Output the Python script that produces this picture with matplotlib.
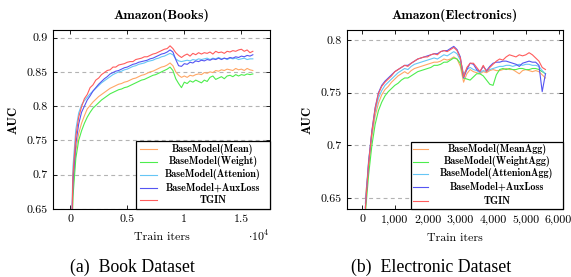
import matplotlib
matplotlib.use("Agg")
import matplotlib.pyplot as plt
from matplotlib.patches import Rectangle
from matplotlib.lines import Line2D

plt.rcParams['font.family'] = ['cmr10', 'DejaVu Serif']
plt.rcParams['mathtext.fontset'] = 'cm'
plt.rcParams['axes.formatter.use_mathtext'] = True

# ---------------- data ----------------
labels_books = ['BaseModel(Mean)', 'BaseModel(Weight)', 'BaseModel(Attenion)',
                'BaseModel+AuxLoss', 'TGIN']
labels_elec = ['BaseModel(MeanAgg)', 'BaseModel(WeightAgg)', 'BaseModel(AttenionAgg)',
               'BaseModel+AuxLoss', 'TGIN']
colors = ['#ffa766', '#4ded4d', '#66c6f5', '#5555f2', '#ff5c5c']

iters_books = [150] + list(range(250, 16001, 250))

books_mean = [0.615, 0.680, 0.735, 0.760, 0.775, 0.786, 0.796, 0.801, 0.806, 0.810,
              0.814, 0.817, 0.820, 0.823, 0.826, 0.828, 0.830, 0.832, 0.833, 0.835,
              0.836, 0.838, 0.840, 0.841, 0.843, 0.845, 0.846, 0.848, 0.850, 0.851,
              0.853, 0.855, 0.857, 0.858, 0.860, 0.863, 0.859, 0.850, 0.845, 0.842,
              0.844, 0.842, 0.845, 0.844, 0.846, 0.847, 0.846, 0.849, 0.848, 0.850,
              0.849, 0.852, 0.851, 0.853, 0.852, 0.854, 0.853, 0.852, 0.855, 0.853,
              0.854, 0.852, 0.855, 0.853, 0.852]
books_weight = [0.605, 0.668, 0.724, 0.750, 0.764, 0.775, 0.784, 0.791, 0.797, 0.801,
                0.805, 0.809, 0.812, 0.815, 0.818, 0.820, 0.822, 0.824, 0.825, 0.827,
                0.828, 0.830, 0.832, 0.834, 0.836, 0.838, 0.839, 0.841, 0.843, 0.845,
                0.846, 0.848, 0.850, 0.852, 0.854, 0.857, 0.852, 0.840, 0.833, 0.827,
                0.835, 0.833, 0.837, 0.835, 0.838, 0.836, 0.834, 0.838, 0.836, 0.842,
                0.844, 0.839, 0.841, 0.843, 0.840, 0.844, 0.845, 0.843, 0.846, 0.844,
                0.846, 0.845, 0.847, 0.846, 0.847]
books_attn = [0.640, 0.712, 0.766, 0.790, 0.802, 0.808, 0.813, 0.818, 0.822, 0.826,
              0.830, 0.834, 0.837, 0.840, 0.843, 0.846, 0.848, 0.850, 0.851, 0.853,
              0.854, 0.856, 0.858, 0.859, 0.861, 0.862, 0.863, 0.865, 0.866, 0.867,
              0.869, 0.870, 0.872, 0.873, 0.875, 0.877, 0.875, 0.869, 0.866, 0.865,
              0.866, 0.867, 0.866, 0.868, 0.867, 0.869, 0.868, 0.869, 0.870, 0.868,
              0.870, 0.869, 0.871, 0.869, 0.870, 0.868, 0.870, 0.869, 0.870, 0.868,
              0.869, 0.870, 0.868, 0.869, 0.869]
books_aux = [0.625, 0.690, 0.745, 0.774, 0.791, 0.800, 0.809, 0.815, 0.822, 0.827,
             0.832, 0.836, 0.840, 0.843, 0.847, 0.849, 0.851, 0.852, 0.854, 0.856,
             0.857, 0.859, 0.861, 0.862, 0.864, 0.865, 0.866, 0.867, 0.869, 0.870,
             0.872, 0.874, 0.876, 0.877, 0.879, 0.882, 0.879, 0.868, 0.859, 0.858,
             0.862, 0.861, 0.864, 0.863, 0.866, 0.865, 0.867, 0.866, 0.868, 0.867,
             0.869, 0.868, 0.870, 0.868, 0.870, 0.869, 0.871, 0.870, 0.872, 0.871,
             0.873, 0.872, 0.874, 0.873, 0.875]
books_tgin = [0.630, 0.700, 0.756, 0.784, 0.799, 0.811, 0.817, 0.827, 0.831, 0.838,
              0.841, 0.846, 0.849, 0.852, 0.853, 0.857, 0.857, 0.860, 0.861, 0.862,
              0.864, 0.865, 0.865, 0.868, 0.869, 0.870, 0.872, 0.872, 0.874, 0.876,
              0.877, 0.879, 0.881, 0.883, 0.884, 0.888, 0.884, 0.878, 0.874, 0.871,
              0.874, 0.876, 0.873, 0.877, 0.875, 0.878, 0.876, 0.878, 0.877, 0.879,
              0.876, 0.880, 0.878, 0.879, 0.877, 0.880, 0.879, 0.881, 0.880, 0.882,
              0.883, 0.880, 0.882, 0.878, 0.880]

iters_elec = list(range(100, 5601, 100))

elec_mean = [0.650, 0.680, 0.708, 0.728, 0.740, 0.748, 0.753, 0.756, 0.760, 0.763,
             0.766, 0.768, 0.770, 0.768, 0.771, 0.773, 0.774, 0.775, 0.776, 0.777,
             0.778, 0.779, 0.779, 0.780, 0.782, 0.781, 0.782, 0.784, 0.782, 0.775,
             0.760, 0.768, 0.772, 0.770, 0.769, 0.768, 0.770, 0.769, 0.771, 0.772,
             0.771, 0.771, 0.772, 0.773, 0.772, 0.772, 0.770, 0.768, 0.771, 0.772,
             0.771, 0.770, 0.771, 0.770, 0.767, 0.764]
elec_weight = [0.635, 0.672, 0.700, 0.720, 0.733, 0.741, 0.747, 0.751, 0.754, 0.757,
               0.759, 0.762, 0.764, 0.764, 0.766, 0.768, 0.770, 0.771, 0.772, 0.773,
               0.774, 0.776, 0.776, 0.777, 0.779, 0.779, 0.781, 0.783, 0.782, 0.778,
               0.764, 0.763, 0.762, 0.765, 0.768, 0.768, 0.766, 0.762, 0.758, 0.757,
               0.767, 0.772, 0.773, 0.772, 0.773, 0.772, 0.772, 0.773, 0.773, 0.772,
               0.772, 0.773, 0.773, 0.772, 0.770, 0.768]
elec_attn = [0.645, 0.686, 0.712, 0.732, 0.745, 0.752, 0.757, 0.760, 0.763, 0.766,
             0.769, 0.771, 0.773, 0.772, 0.775, 0.777, 0.778, 0.779, 0.780, 0.781,
             0.782, 0.783, 0.782, 0.784, 0.786, 0.785, 0.787, 0.789, 0.787, 0.781,
             0.768, 0.772, 0.774, 0.772, 0.771, 0.769, 0.771, 0.770, 0.772, 0.773,
             0.774, 0.775, 0.775, 0.776, 0.776, 0.775, 0.776, 0.777, 0.776, 0.777,
             0.777, 0.776, 0.776, 0.775, 0.771, 0.768]
elec_aux = [0.641, 0.684, 0.714, 0.736, 0.750, 0.757, 0.761, 0.764, 0.767, 0.770,
            0.772, 0.774, 0.776, 0.776, 0.778, 0.780, 0.782, 0.783, 0.784, 0.785,
            0.786, 0.787, 0.787, 0.789, 0.790, 0.790, 0.792, 0.794, 0.791, 0.784,
            0.764, 0.772, 0.778, 0.777, 0.772, 0.770, 0.775, 0.771, 0.775, 0.778,
            0.779, 0.779, 0.780, 0.780, 0.779, 0.778, 0.777, 0.775, 0.778, 0.779,
            0.780, 0.779, 0.779, 0.776, 0.751, 0.768]
elec_tgin = [0.640, 0.683, 0.713, 0.735, 0.749, 0.756, 0.760, 0.763, 0.766, 0.770,
             0.772, 0.774, 0.776, 0.775, 0.778, 0.780, 0.782, 0.783, 0.784, 0.784,
             0.786, 0.787, 0.786, 0.789, 0.790, 0.789, 0.791, 0.793, 0.790, 0.783,
             0.765, 0.774, 0.778, 0.778, 0.774, 0.770, 0.776, 0.770, 0.774, 0.777,
             0.780, 0.782, 0.781, 0.784, 0.786, 0.785, 0.784, 0.786, 0.785, 0.786,
             0.788, 0.786, 0.783, 0.780, 0.774, 0.772]

books_series = [books_mean, books_weight, books_attn, books_aux, books_tgin]
elec_series = [elec_mean, elec_weight, elec_attn, elec_aux, elec_tgin]

# ---------------- figure ----------------
fig = plt.figure(figsize=(5.71, 2.77), dpi=100)
ax1 = fig.add_axes([0.0928, 0.2455, 0.380, 0.646])
ax2 = fig.add_axes([0.6077, 0.2455, 0.378, 0.646])

bold = dict(family='cmb10')


def style_axes(ax):
    ax.tick_params(direction='in', top=True, right=True, length=3, width=0.6,
                   labelsize=8.6, pad=4)
    for s in ax.spines.values():
        s.set_linewidth(0.8)
    ax.yaxis.grid(True, color='#b3b3b3', linestyle=(0, (3.5, 3)), linewidth=0.8)
    ax.set_axisbelow(True)


def add_legend(ax, labels, x0, y0, hx, tx, rows):
    ax.add_patch(Rectangle((x0, 0), 1 - x0, y0, transform=ax.transAxes,
                           facecolor='white', edgecolor='black', linewidth=0.9,
                           zorder=10, clip_on=False))
    for lab, c, ry in zip(labels, colors, rows):
        ax.add_line(Line2D(hx, [ry, ry], transform=ax.transAxes, color=c,
                           linewidth=0.8, zorder=11))
        ax.text(tx, ry, lab, transform=ax.transAxes, ha='center', va='center',
                fontsize=7.3, zorder=11, **bold)


# left: books
for ys, c in zip(books_series, colors):
    ax1.plot(iters_books, ys, color=c, linewidth=0.8)
style_axes(ax1)
ax1.set_xlim(-1500, 17500)
ax1.set_ylim(0.65, 0.911)
ax1.set_xticks([0, 5000, 10000, 15000])
ax1.set_xticklabels(['0', '0.5', '1', '1.5'])
ax1.set_yticks([0.65, 0.7, 0.75, 0.8, 0.85, 0.9])
ax1.set_yticklabels(['0.65', '0.7', '0.75', '0.8', '0.85', '0.9'])
ax1.set_title('Amazon(Books)', fontsize=9.9, pad=8, **bold)
ax1.set_ylabel('AUC', fontsize=9, labelpad=5, **bold)
ax1.set_xlabel('Train iters', fontsize=8.6, labelpad=6)
ax1.text(1.0, -0.15, r'$\cdot10^4$', transform=ax1.transAxes, ha='right',
         va='center', fontsize=8.6)
add_legend(ax1, labels_books, 0.382, 0.380, [0.401, 0.479], 0.737,
           [0.335, 0.263, 0.190, 0.120, 0.050])

# right: electronics
for ys, c in zip(elec_series, colors):
    ax2.plot(iters_elec, ys, color=c, linewidth=0.8)
style_axes(ax2)
ax2.set_xlim(-460, 6130)
ax2.set_ylim(0.6396, 0.8095)
ax2.set_xticks(range(0, 6001, 1000))
ax2.set_xticklabels(['0', '1,000', '2,000', '3,000', '4,000', '5,000', '6,000'])
ax2.set_yticks([0.65, 0.7, 0.75, 0.8])
ax2.set_yticklabels(['0.65', '0.7', '0.75', '0.8'])
ax2.set_title('Amazon(Electronics)', fontsize=9.9, pad=8, **bold)
ax2.set_ylabel('AUC', fontsize=9, labelpad=5, **bold)
ax2.set_xlabel('Train iters', fontsize=8.6, labelpad=6)
add_legend(ax2, labels_elec, 0.296, 0.374, [0.306, 0.375], 0.694,
           [0.335, 0.263, 0.196, 0.123, 0.045])

# sub captions
fig.text(132 / 571, 1 - 267 / 277, '(a)  Book Dataset', ha='center', va='center',
         fontsize=12.8, family='Liberation Serif')
fig.text(431 / 571, 1 - 267 / 277, '(b)  Electronic Dataset', ha='center', va='center',
         fontsize=12.8, family='Liberation Serif')

fig.savefig('out.png', dpi=100)
